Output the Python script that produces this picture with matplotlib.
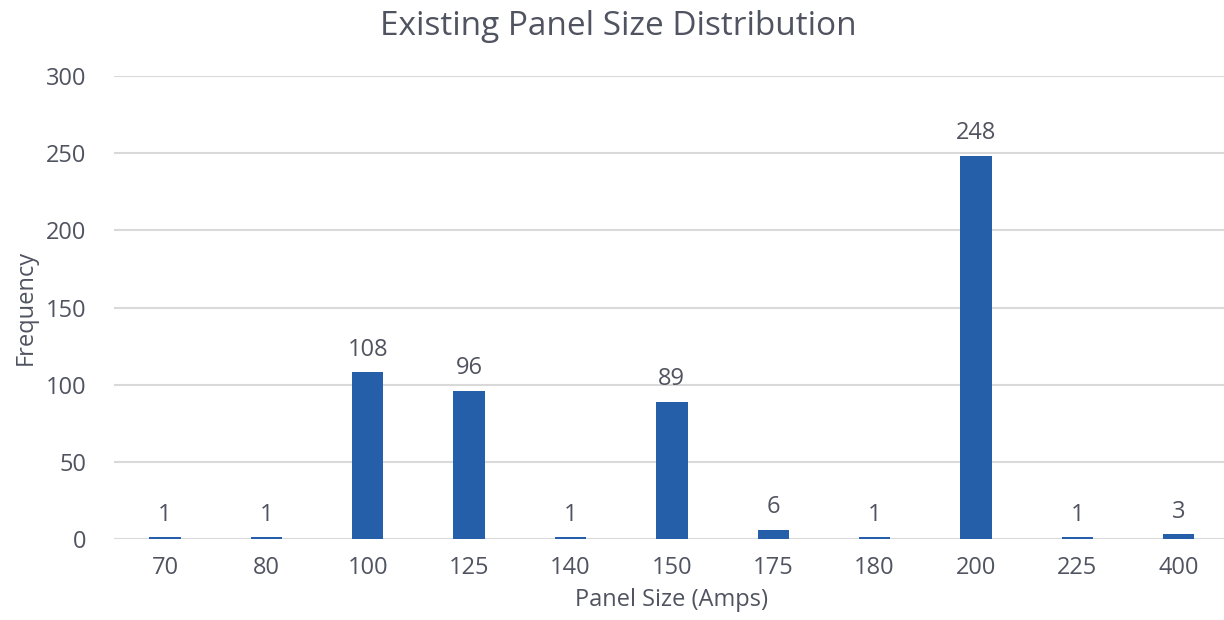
import matplotlib
matplotlib.use("Agg")
import matplotlib.pyplot as plt
import numpy as np

sizes = ["70", "80", "100", "125", "140", "150", "175", "180", "200", "225", "400"]
freq = [1, 1, 108, 96, 1, 89, 6, 1, 248, 1, 3]

bar_color = "#255ea9"
text_color = "#505460"

plt.rcParams['font.family'] = ['Open Sans', 'DejaVu Sans']

fig = plt.figure(figsize=(12.24, 6.2), dpi=100)
ax = fig.add_axes([0.0934, 0.1306, 0.911, 0.7468])

x = np.arange(len(sizes))
bars = ax.bar(x, freq, width=0.31, color=bar_color, zorder=3)
for xi, v in zip(x, freq):
    ax.text(xi, v + 7, str(v), ha="center", va="bottom", fontsize=17, color=text_color)

ax.set_xlim(-0.5, len(sizes) - 0.5)
ax.set_ylim(0, 300)
ax.set_yticks(range(0, 301, 50))
ax.set_xticks(x)
ax.set_xticklabels(sizes)
ax.tick_params(axis="both", length=0, labelsize=17, labelcolor=text_color)
ax.tick_params(axis="x", pad=12)
ax.tick_params(axis="y", pad=20)
ax.grid(axis="y", color="#d9d9d9", linewidth=1.5, zorder=0)
for s in ax.spines.values():
    s.set_visible(False)

ax.set_xlabel("Panel Size (Amps)", fontsize=17, color=text_color, labelpad=6)
ax.set_ylabel("Frequency", fontsize=17, color=text_color, labelpad=6)
fig.text(0.505, 0.958, "Existing Panel Size Distribution", fontsize=24,
         color=text_color, ha="center", va="center")

fig.savefig("out.png", dpi=100)
